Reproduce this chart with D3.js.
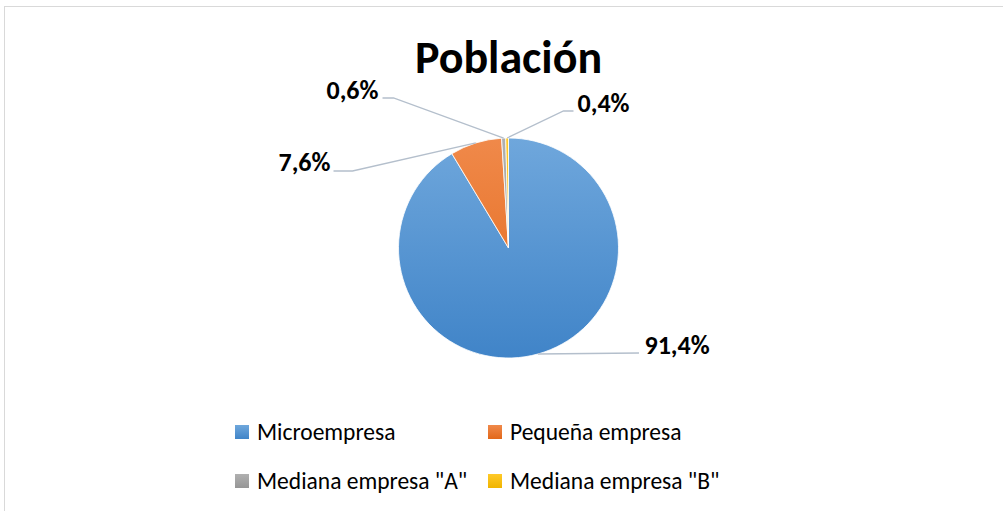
<!DOCTYPE html>
<html>
<head>
<meta charset="utf-8">
<script src="https://cdn.jsdelivr.net/npm/d3@7"></script>
<style>
  body { margin: 0; background: #fff; }
  svg { display: block; font-family: Carlito, Lato, "Open Sans", sans-serif; }
</style>
</head>
<body>
<script>
// data
const categories = ["Microempresa", "Pequeña empresa", "Mediana empresa \"A\"", "Mediana empresa \"B\""];
const values = [91.4, 7.6, 0.6, 0.4];
const labels = ["91,4%", "7,6%", "0,6%", "0,4%"];

const width = 1003;
const height = 511;
const cx = 508.5, cy = 248, r = 110;

// colours (top, bottom of gradient)
const colors = [["#6fa7dc", "#4084c8"], ["#f0894a", "#e2681a"], ["#b0b0b0", "#969696"], ["#ffc928", "#f0b400"]];

// leader elbows / label ends, offset from centre
const leader = [
  {elbow: null, end: [130.5, 105], text: [136, 106], anchor: "start"},
  {elbow: [-156, -77], end: [-175, -77], text: [-178, -77], anchor: "end"},
  {elbow: [-115, -150], end: [-126, -150], text: [-130, -149], anchor: "end"},
  {elbow: [55, -137], end: [65, -137], text: [69, -136], anchor: "start"}
];

const svg = d3.select("body").append("svg")
    .attr("width", width)
    .attr("height", height);

const defs = svg.append("defs");
colors.forEach((c, i) => {
  const g = defs.append("linearGradient")
      .attr("id", "grad" + i)
      .attr("gradientUnits", "userSpaceOnUse")
      .attr("x1", 0).attr("y1", -r)
      .attr("x2", 0).attr("y2", r);
  g.append("stop").attr("offset", "0%").attr("stop-color", c[0]);
  g.append("stop").attr("offset", "100%").attr("stop-color", c[1]);

  const lg = defs.append("linearGradient")
      .attr("id", "lg" + i)
      .attr("x1", 0).attr("y1", 0).attr("x2", 0).attr("y2", 1);
  lg.append("stop").attr("offset", "0%").attr("stop-color", c[0]);
  lg.append("stop").attr("offset", "100%").attr("stop-color", c[1]);
});

// chart border
svg.append("rect")
    .attr("x", 4.5).attr("y", 6.5)
    .attr("width", width + 10).attr("height", height + 10)
    .attr("fill", "none")
    .attr("stroke", "#d9d9d9");

// title
svg.append("text")
    .attr("x", cx).attr("y", 73)
    .attr("text-anchor", "middle")
    .attr("font-size", 46)
    .attr("font-weight", "bold")
    .attr("fill", "#000")
    .text("Población");

const pie = d3.pie().sort(null).value(d => d)(values);
const arc = d3.arc().innerRadius(0).outerRadius(r);

const g = svg.append("g").attr("transform", `translate(${cx},${cy})`);

g.selectAll("path.slice")
  .data(pie)
  .join("path")
    .attr("class", "slice")
    .attr("d", arc)
    .attr("fill", (d, i) => `url(#grad${i})`)
    .attr("stroke", "#fff")
    .attr("stroke-width", 0.8);

// leader lines
g.selectAll("polyline")
  .data(pie)
  .join("polyline")
    .attr("fill", "none")
    .attr("stroke", "#b4bfcc")
    .attr("stroke-width", 1.3)
    .attr("points", (d, i) => {
      const a = (d.startAngle + d.endAngle) / 2;
      const p = [Math.sin(a) * r, -Math.cos(a) * r];
      const L = leader[i];
      const pts = [p];
      if (L.elbow) pts.push(L.elbow);
      pts.push(L.end);
      return pts.map(q => q.join(",")).join(" ");
    });

g.selectAll("text.lbl")
  .data(pie)
  .join("text")
    .attr("class", "lbl")
    .attr("x", (d, i) => leader[i].text[0])
    .attr("y", (d, i) => leader[i].text[1])
    .attr("text-anchor", (d, i) => leader[i].anchor)
    .attr("font-size", 26)
    .attr("font-weight", "bold")
    .attr("fill", "#000")
    .text((d, i) => labels[i]);

// legend
const legendX = d3.scalePoint().domain([0, 1]).range([235, 488]);
const legendY = d3.scalePoint().domain([0, 1]).range([432, 481]);

const leg = svg.append("g").selectAll("g")
  .data(categories)
  .join("g")
    .attr("transform", (d, i) => `translate(${legendX(i % 2)},${legendY(Math.floor(i / 2))})`);

leg.append("rect")
    .attr("x", 0).attr("y", -7)
    .attr("width", 14).attr("height", 14)
    .attr("fill", (d, i) => `url(#lg${i})`);

leg.append("text")
    .attr("x", 22).attr("y", 8)
    .attr("font-size", 23.5)
    .attr("fill", "#000")
    .text(d => d);
</script>
</body>
</html>
